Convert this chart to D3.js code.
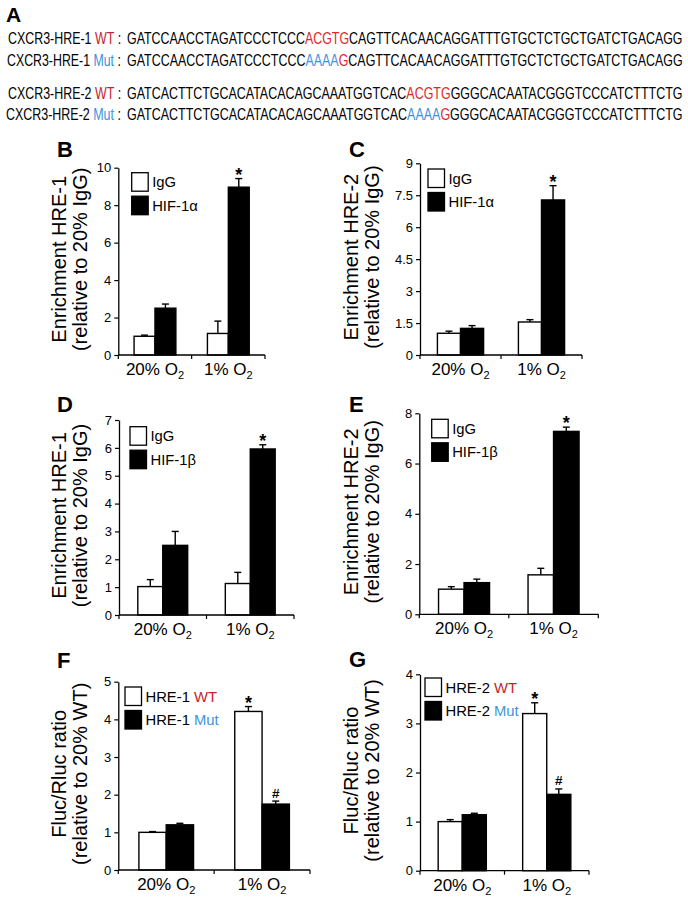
<!DOCTYPE html>
<html>
<head>
<meta charset="utf-8">
<script src="https://cdn.jsdelivr.net/npm/d3@7"></script>
<style>
  body { margin: 0; background: #fff; }
  svg { display: block; font-family: "Liberation Sans", Arial, Helvetica, sans-serif; }
  text { white-space: pre; }
</style>
</head>
<body>
<svg id="fig" width="688" height="902"></svg>
<script>
// ---- panel A sequences ----
const hre1Prefix = "GATCCAACCTAGATCCCTCCC",
    hre1Suffix = "CAGTTCACAACAGGATTTGTGCTCTGCTGATCTGACAGG",
    hre2Prefix = "GATCACTTCTGCACATACACAGCAAATGGTCAC",
    hre2Suffix = "GGGCACAATACGGGTCCCATCTTTCTG",
    wtSite = "ACGTG",
    mutSite = "AAAA",
    mutTail = "G";

// ---- bar data (mean, SEM upward) ----
const conditions = ["20%", "1%"];

const bIgG = [1.0, 1.15], bIgGErr = [0.06, 0.66], bHif = [2.5, 8.96], bHifErr = [0.22, 0.46];
const cIgG = [1.02, 1.55], cIgGErr = [0.1, 0.11], cHif = [1.25, 7.28], cHifErr = [0.13, 0.67];
const dIgG = [1.02, 1.13], dIgGErr = [0.25, 0.4], dHif = [2.5, 5.96], dHifErr = [0.5, 0.15];
const eIgG = [1.0, 1.57], eIgGErr = [0.1, 0.26], eHif = [1.26, 7.28], eHifErr = [0.14, 0.17];
const fWt = [1.0, 4.21], fWtErr = [0.02, 0.13], fMut = [1.2, 1.75], fMutErr = [0.04, 0.08];
const gWt = [1.0, 3.2], gWtErr = [0.04, 0.22], gMut = [1.14, 1.555], gMutErr = [0.03, 0.11];

const ticksB = [0, 2, 4, 6, 8, 10],
    ticksC = [0, 1.5, 3, 4.5, 6, 7.5, 9],
    ticksD = [0, 1, 2, 3, 4, 5, 6, 7],
    ticksE = [0, 2, 4, 6, 8],
    ticksF = [0, 1, 2, 3, 4, 5],
    ticksG = [0, 1, 2, 3, 4];

const red = "#c8232b", seqRed = "#e3262b", blue = "#3f93db";

let svg = d3.select("#fig");

// ---------- panel A ----------
svg.append("text").attr("x", 6).attr("y", 22).attr("font-size", 21).attr("font-weight", "bold").text("A");

let seqRows = [
    { y: 44, lx: 8, label: [["CXCR3-HRE-1 ", "#000"], ["WT", red], [" :", "#000"]],
      seq: [[hre1Prefix, "#000"], [wtSite, seqRed], [hre1Suffix, "#000"]] },
    { y: 66, lx: 7, label: [["CXCR3-HRE-1 ", "#000"], ["Mut", blue], [" :", "#000"]],
      seq: [[hre1Prefix, "#000"], [mutSite, blue], [mutTail, seqRed], [hre1Suffix, "#000"]] },
    { y: 99, lx: 8, label: [["CXCR3-HRE-2 ", "#000"], ["WT", red], [" :", "#000"]],
      seq: [[hre2Prefix, "#000"], [wtSite, seqRed], [hre2Suffix, "#000"]] },
    { y: 120, lx: 6, label: [["CXCR3-HRE-2 ", "#000"], ["Mut", blue], [" :", "#000"]],
      seq: [[hre2Prefix, "#000"], [mutSite, blue], [mutTail, seqRed], [hre2Suffix, "#000"]] }
];

function fitText(x, y, width, parts, size) {
    let t = svg.append("text").attr("font-size", size).attr("transform", `translate(${x},${y})`);
    parts.forEach(p => t.append("tspan").attr("fill", p[1]).text(p[0]));
    let w = t.node().getComputedTextLength();
    t.attr("transform", `translate(${x},${y}) scale(${width / w},1)`);
}

seqRows.forEach(r => {
    fitText(r.lx, r.y, 121 - r.lx, r.label, 16);
    fitText(127, r.y, 683 - 127, r.seq, 16);
});

// ---------- bar panels ----------
let panels = [
    { letter: "B", lx: 57, ly: 157, x0: 118.3, x1: 265, y0: 355, y1: 167.7, ticks: ticksB,
      title: ["Enrichment HRE-1", "(relative to 20% IgG)"], tx: [59, 80],
      legend: { x: 131.7, y: 172.7 },
      series: [
          { name: [["IgG", "#000"]], fill: "#fff", vals: bIgG, errs: bIgGErr, marks: ["", ""] },
          { name: [["HIF-1α", "#000"]], fill: "#000", vals: bHif, errs: bHifErr, marks: ["", "*"] }] },
    { letter: "C", lx: 349, ly: 157, x0: 420, x1: 582, y0: 355, y1: 163.3, ticks: ticksC,
      title: ["Enrichment HRE-2", "(relative to 20% IgG)"], tx: [351, 372],
      legend: { x: 428, y: 169 },
      series: [
          { name: [["IgG", "#000"]], fill: "#fff", vals: cIgG, errs: cIgGErr, marks: ["", ""] },
          { name: [["HIF-1α", "#000"]], fill: "#000", vals: cHif, errs: cHifErr, marks: ["", "*"] }] },
    { letter: "D", lx: 57, ly: 412, x0: 119, x1: 294, y0: 615, y1: 420, ticks: ticksD,
      title: ["Enrichment HRE-1", "(relative to 20% IgG)"], tx: [59, 80],
      legend: { x: 130, y: 426.7 },
      series: [
          { name: [["IgG", "#000"]], fill: "#fff", vals: dIgG, errs: dIgGErr, marks: ["", ""] },
          { name: [["HIF-1β", "#000"]], fill: "#000", vals: dHif, errs: dHifErr, marks: ["", "*"] }] },
    { letter: "E", lx: 349, ly: 412, x0: 419.3, x1: 598.3, y0: 614.3, y1: 413.3, ticks: ticksE,
      title: ["Enrichment HRE-2", "(relative to 20% IgG)"], tx: [351, 372],
      legend: { x: 431.7, y: 419.3 },
      series: [
          { name: [["IgG", "#000"]], fill: "#fff", vals: eIgG, errs: eIgGErr, marks: ["", ""] },
          { name: [["HIF-1β", "#000"]], fill: "#000", vals: eHif, errs: eHifErr, marks: ["", "*"] }] },
    { letter: "F", lx: 57, ly: 668, x0: 118.3, x1: 310, y0: 870, y1: 681.7, ticks: ticksF,
      title: ["Fluc/Rluc ratio", "(relative to 20% WT)"], tx: [59, 80],
      legend: { x: 125, y: 687 },
      series: [
          { name: [["HRE-1 ", "#000"], ["WT", red]], fill: "#fff", vals: fWt, errs: fWtErr, marks: ["", "*"] },
          { name: [["HRE-1 ", "#000"], ["Mut", blue]], fill: "#000", vals: fMut, errs: fMutErr, marks: ["", "#"] }] },
    { letter: "G", lx: 349, ly: 667, x0: 420, x1: 589, y0: 870.7, y1: 674.3, ticks: ticksG,
      title: ["Fluc/Rluc ratio", "(relative to 20% WT)"], tx: [351, 372],
      legend: { x: 425, y: 678 },
      series: [
          { name: [["HRE-2 ", "#000"], ["WT", red]], fill: "#fff", vals: gWt, errs: gWtErr, marks: ["", "*"] },
          { name: [["HRE-2 ", "#000"], ["Mut", blue]], fill: "#000", vals: gMut, errs: gMutErr, marks: ["", "#"] }] }
];

panels.forEach(drawPanel);

function drawPanel(p) {
    let g = svg.append("g");

    let x = d3.scaleBand().domain(conditions).range([p.x0, p.x1]),
        y = d3.scaleLinear().domain([0, d3.max(p.ticks)]).range([p.y0, p.y1]),
        bw = x.bandwidth(),
        groupW = bw * 0.57,
        inner = d3.scaleBand().domain(d3.range(p.series.length)).range([0, groupW]);

    // panel letter
    g.append("text").attr("x", p.lx).attr("y", p.ly)
        .attr("font-size", 22).attr("font-weight", "bold").text(p.letter);

    // y axis title (two lines)
    let midY = (p.y0 + p.y1) / 2;
    p.title.forEach((t, i) => {
        g.append("text")
            .attr("transform", `translate(${p.tx[i]},${midY - 2})rotate(-90)`)
            .attr("text-anchor", "middle")
            .attr("dy", "0.35em")
            .attr("font-size", 20)
            .text(t);
    });

    // bars
    p.series.forEach((s, si) => {
        conditions.forEach((c, ci) => {
            let bx = x(c) + (bw - groupW) / 2 + inner(si),
                cx = bx + inner.bandwidth() / 2,
                top = y(s.vals[ci]),
                errTop = y(s.vals[ci] + s.errs[ci]);

            // error bar (upward only)
            g.append("line").attr("x1", cx).attr("x2", cx).attr("y1", top).attr("y2", errTop)
                .attr("stroke", "#000").attr("stroke-width", 1.4);
            g.append("line").attr("x1", cx - 3.5).attr("x2", cx + 3.5).attr("y1", errTop).attr("y2", errTop)
                .attr("stroke", "#000").attr("stroke-width", 1.4);

            g.append("rect")
                .attr("x", bx).attr("y", top)
                .attr("width", inner.bandwidth()).attr("height", p.y0 - top)
                .attr("fill", s.fill).attr("stroke", "#000").attr("stroke-width", 1.4);

            let m = s.marks[ci];
            if (m === "*") {
                g.append("text").attr("x", cx).attr("y", errTop + 2)
                    .attr("text-anchor", "middle").attr("font-size", 18).attr("font-weight", "bold").text("*");
            } else if (m === "#") {
                g.append("text").attr("x", cx).attr("y", errTop - 3.5)
                    .attr("text-anchor", "middle").attr("font-size", 13.5).attr("font-weight", "bold").text("#");
            }
        });
    });

    // y axis
    let ya = g.append("g")
        .attr("transform", `translate(${p.x0},0)`)
        .call(d3.axisLeft(y).tickValues(p.ticks).tickSize(4).tickSizeOuter(0).tickPadding(3).tickFormat(d => d));
    ya.select(".domain").attr("stroke-width", 1.3);
    ya.selectAll(".tick line").attr("stroke-width", 1.2);
    ya.selectAll("text").attr("font-size", 13).attr("font-family", "inherit").attr("fill", "#000");

    // x axis with ticks at category boundaries
    let edges = conditions.map(c => x(c)).concat([p.x1]);
    g.append("line").attr("x1", p.x0).attr("x2", p.x1).attr("y1", p.y0).attr("y2", p.y0)
        .attr("stroke", "#000").attr("stroke-width", 1.3);
    g.selectAll(null).data(edges).join("line")
        .attr("x1", d => d).attr("x2", d => d).attr("y1", p.y0).attr("y2", p.y0 + 4)
        .attr("stroke", "#000").attr("stroke-width", 1.2);

    conditions.forEach(c => {
        let t = g.append("text")
            .attr("x", x(c) + bw / 2).attr("y", p.y0 + 20)
            .attr("text-anchor", "middle").attr("font-size", 17);
        t.append("tspan").text(c + " O");
        t.append("tspan").attr("font-size", 11).attr("dy", 4).text("2");
    });

    // legend
    p.series.forEach((s, si) => {
        let ly = p.legend.y + si * 23.5;
        g.append("rect").attr("x", p.legend.x).attr("y", ly)
            .attr("width", 16.5).attr("height", 18.5)
            .attr("fill", s.fill).attr("stroke", "#000").attr("stroke-width", 1.3);
        let t = g.append("text").attr("x", p.legend.x + 20.5).attr("y", ly + 9.25)
            .attr("dy", "0.36em").attr("font-size", 14.8);
        s.name.forEach(n => t.append("tspan").attr("fill", n[1]).text(n[0]));
    });
}
</script>
</body>
</html>
